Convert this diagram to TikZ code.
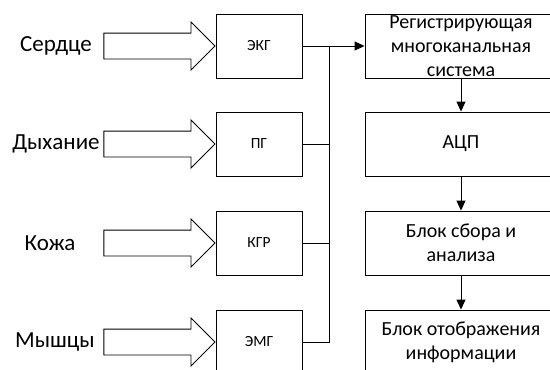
\documentclass[tikz,border=0pt]{standalone}
\usepackage{fontspec}
\setmainfont{Carlito}
\usetikzlibrary{shapes.arrows,arrows.meta,positioning}

\begin{document}
\begin{tikzpicture}[x=1pt, y=-1pt, line width=0.9pt,
    sensor/.style={draw, minimum width=86pt, minimum height=64pt, inner sep=0pt, font=\fontsize{15.5}{18}\selectfont},
    block/.style={draw, minimum width=192pt, minimum height=64pt, inner sep=0pt, align=center, font=\fontsize{20}{24}\selectfont},
    source/.style={inner sep=0pt, font=\fontsize{23}{27}\selectfont},
    inflow/.style={draw, single arrow, single arrow head extend=11pt, single arrow head indent=0pt,
      minimum height=111pt, inner xsep=0pt, inner ysep=12.5pt, anchor=tip},
    flow/.style={-{Triangle[length=10pt, width=9pt]}}]
  \useasboundingbox (0,0) rectangle (550,370);
  \clip (0,0) rectangle (550,370);

  % Sensors (left)
  \node[sensor] (ekg) at (259,46) {ЭКГ};
  \node[sensor] (pg) at (259,144) {ПГ};
  \node[sensor] (kgr) at (259,243) {КГР};
  \node[sensor] (emg) at (259,342) {ЭМГ};

  \node[inflow] (in1) at (ekg.west) {};
  \node[inflow] (in2) at (pg.west) {};
  \node[inflow] (in3) at (kgr.west) {};
  \node[inflow] (in4) at (emg.west) {};

  \node[source] (src1) at (56,46) {Сердце};
  \node[source] (src2) at (56,144) {Дыхание};
  \node[source] (src3) at (50,243) {Кожа};
  \node[source] (src4) at (55,342) {Мышцы};

  % Processing chain (right)
  \node[block] (reg) at (461,46) {Регистрирующая\\многоканальная\\система};
  \node[block] (adc) at (461,144) {АЦП};
  \node[block] (proc) at (461,243) {Блок сбора и\\анализа};
  \node[block] (disp) at (461,342) {Блок отображения\\информации};
  \draw[flow] (reg) -- (adc);
  \draw[flow] (adc) -- (proc);
  \draw[flow] (proc) -- (disp);

  % Common bus
  \coordinate (bus) at (329,46);
  \draw[flow] (ekg) -- (reg);
  \draw (bus) |- (emg.east);
  \draw (pg.east) -- (pg.east -| bus);
  \draw (kgr.east) -- (kgr.east -| bus);
\end{tikzpicture}
\end{document}
